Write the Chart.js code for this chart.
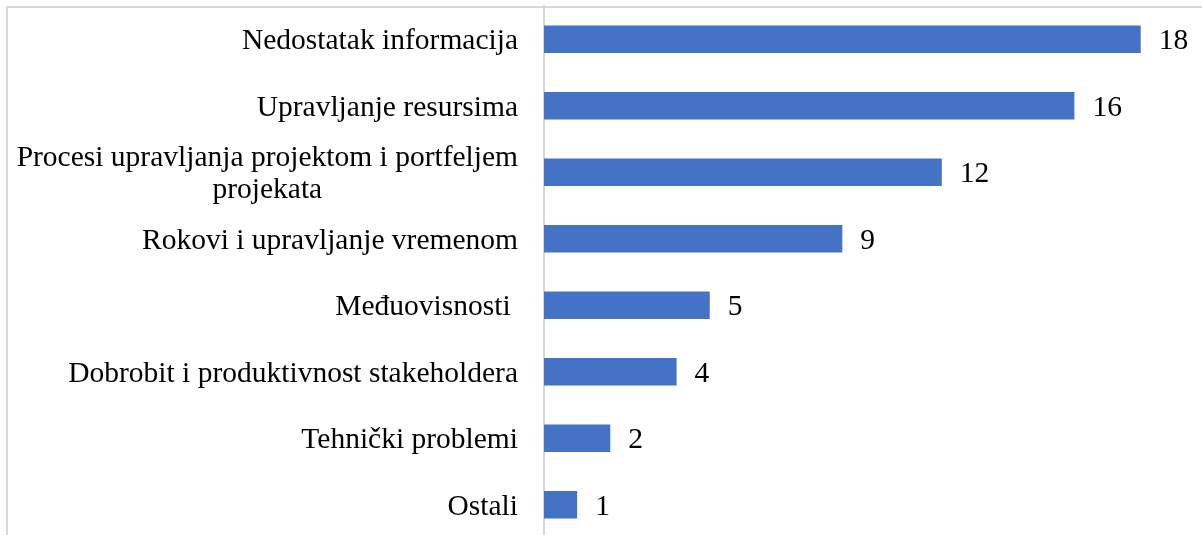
<!DOCTYPE html>
<html>
<head>
<meta charset="utf-8">
<script src="https://cdn.jsdelivr.net/npm/chart.js@4"></script>
<style>
  html, body { margin: 0; padding: 0; background: #fff; overflow: hidden; }
  #frame { position: absolute; left: 6px; top: 6px; width: 1300px; height: 600px;
           border-top: 2px solid #dadada; border-left: 2px solid #dadada; }
  #wrap { position: absolute; left: 0; top: 0; width: 1210px; height: 545px; }
</style>
</head>
<body>
<div id="frame"></div>
<div id="wrap"><canvas id="chart"></canvas></div>
<script>
const categories = [
  'Nedostatak informacija',
  'Upravljanje resursima',
  ['Procesi upravljanja projektom i portfeljem', 'projekata'],
  'Rokovi i upravljanje vremenom',
  'Međuovisnosti ',
  'Dobrobit i produktivnost stakeholdera',
  'Tehnički problemi',
  'Ostali'
];
const counts = [18, 16, 12, 9, 5, 4, 2, 1];

const FONT = '29.5px "Liberation Serif", "Times New Roman", serif';

// category labels on the left, right-aligned block, lines centred inside it
const catLabels = {
  id: 'catLabels',
  afterDraw(chart) {
    const ctx = chart.ctx;
    const y = chart.scales.y;
    const right = 518;
    ctx.save();
    ctx.font = FONT;
    ctx.fillStyle = '#000';
    ctx.textBaseline = 'middle';
    categories.forEach((lab, i) => {
      const yc = y.getPixelForValue(i) + 2;
      if (Array.isArray(lab)) {
        const w = Math.max(...lab.map(l => ctx.measureText(l).width));
        const cx = right - w / 2;
        const lh = 32;
        ctx.textAlign = 'center';
        lab.forEach((l, j) => {
          ctx.fillText(l, cx, yc + (j - (lab.length - 1) / 2) * lh);
        });
      } else {
        ctx.textAlign = 'right';
        ctx.fillText(lab, right, yc);
      }
    });
    ctx.restore();
  }
};

// value labels after each bar
const valueLabels = {
  id: 'valueLabels',
  afterDatasetsDraw(chart) {
    const ctx = chart.ctx;
    const meta = chart.getDatasetMeta(0);
    ctx.save();
    ctx.font = FONT;
    ctx.fillStyle = '#000';
    ctx.textAlign = 'left';
    ctx.textBaseline = 'middle';
    meta.data.forEach((bar, i) => {
      ctx.fillText(String(counts[i]), bar.x + 18, bar.y + 2);
    });
    ctx.restore();
  }
};

new Chart(document.getElementById('chart'), {
  type: 'bar',
  data: {
    labels: categories,
    datasets: [{
      data: counts,
      backgroundColor: '#4472C4',
      borderWidth: 0,
      barPercentage: 0.82,
      categoryPercentage: 0.5
    }]
  },
  options: {
    indexAxis: 'y',
    responsive: true,
    maintainAspectRatio: false,
    animation: false,
    layout: { padding: { top: 6, bottom: 7, right: 3, left: 0 } },
    plugins: { legend: { display: false }, tooltip: { enabled: false } },
    scales: {
      x: {
        min: 0,
        max: 20,
        display: false
      },
      y: {
        grid: { display: false, drawTicks: false },
        border: { display: true, color: '#d3d6dc', width: 2 },
        ticks: { display: false },
        afterFit(scale) { scale.width = 544; }
      }
    }
  },
  plugins: [catLabels, valueLabels]
});
</script>
</body>
</html>
